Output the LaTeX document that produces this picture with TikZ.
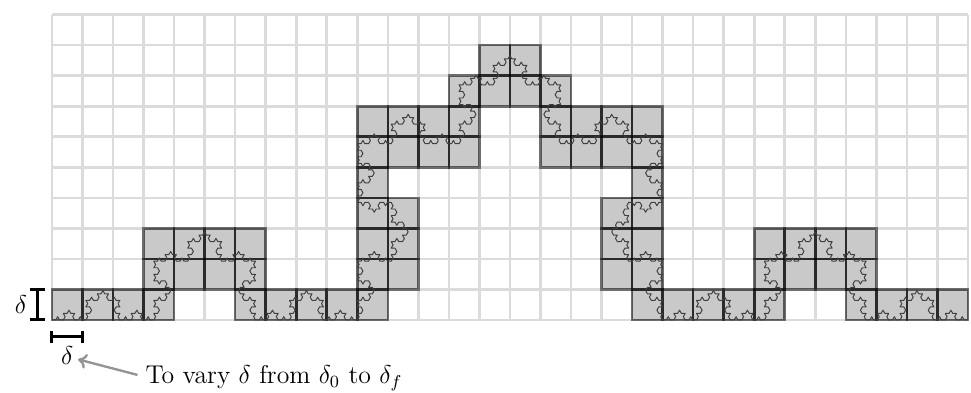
\documentclass[tikz,border=0pt]{standalone}
\usetikzlibrary{lindenmayersystems,arrows.meta}
\pgfdeclarelindenmayersystem{Koch}{\rule{F -> F+F--F+F}}
\begin{document}
\begin{tikzpicture}[x=0.5cm,y=0.5cm,
  gridline/.style={draw=black!14,line width=1.2pt},
  cellbox/.style={fill=black,fill opacity=0.21,draw=black,draw opacity=0.5,line width=1.2pt},
  kochline/.style={draw=black!75,line width=0.45pt,line join=round},
  beam/.style={line width=1.4pt},
  lbl/.style={inner sep=0pt,font=\large}]
\useasboundingbox (-1.703,-2.391) rectangle (30.10,10.48);
\draw[gridline,step=0.5cm] (0,0) grid (30,10);
\foreach \c/\r in {0/0,1/0,2/0,3/0,6/0,7/0,8/0,9/0,10/0,19/0,20/0,21/0,22/0,23/0,26/0,27/0,28/0,29/0,
  3/1,4/1,5/1,6/1,10/1,11/1,18/1,19/1,23/1,24/1,25/1,26/1,
  3/2,4/2,5/2,6/2,10/2,11/2,18/2,19/2,23/2,24/2,25/2,26/2,
  10/3,11/3,18/3,19/3,
  10/4,19/4,
  10/5,11/5,12/5,13/5,16/5,17/5,18/5,19/5,
  10/6,11/6,12/6,13/6,16/6,17/6,18/6,19/6,
  13/7,14/7,15/7,16/7,
  14/8,15/8}
  \draw[cellbox] (\c,\r) rectangle ++(1,1);
\draw[kochline] (0,0) [l-system={Koch, axiom=F, order=5, step=0.061728cm, angle=60}] lindenmayer system;
% delta markers
\coordinate (va) at (-0.47,0);
\coordinate (vb) at (-0.47,1);
\draw[beam] (va) -- (vb);
\draw[beam] ([xshift=-0.25*0.5cm]va) -- ([xshift=0.25*0.5cm]va);
\draw[beam] ([xshift=-0.25*0.5cm]vb) -- ([xshift=0.25*0.5cm]vb);
\node[lbl] (dv) at (-1.02,0.5) {$\delta$};
\coordinate (ha) at (0,-0.55);
\coordinate (hb) at (1,-0.55);
\draw[beam] (ha) -- (hb);
\draw[beam] ([yshift=-0.19*0.5cm]ha) -- ([yshift=0.19*0.5cm]ha);
\draw[beam] ([yshift=-0.19*0.5cm]hb) -- ([yshift=0.19*0.5cm]hb);
\node[lbl] (dh) at (0.5,-1.15) {$\delta$};
\node[lbl,anchor=west] (txt) at (3.05,-1.9) {To vary $\delta$ from $\delta_0$ to $\delta_f$};
\draw[-{To[length=4pt,width=7pt]},draw=black!42,line width=1.1pt] (txt.west) ++(-0.25,0.1) -- ([xshift=2pt,yshift=-2pt]dh.east);
\end{tikzpicture}
\end{document}
